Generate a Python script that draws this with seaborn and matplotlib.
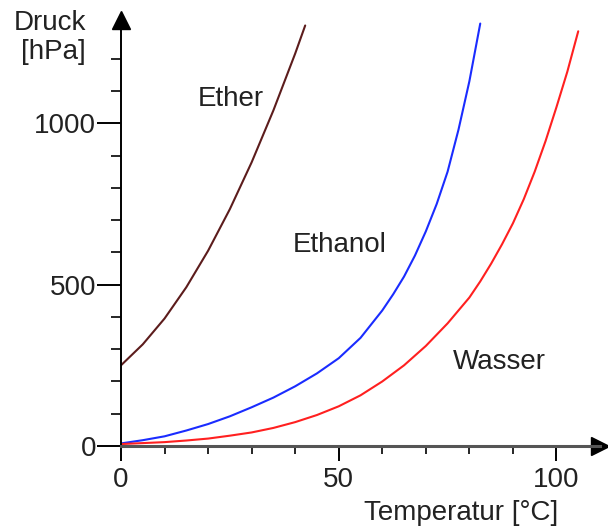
import matplotlib
matplotlib.use("Agg")
import matplotlib.pyplot as plt
import seaborn as sns
import pandas as pd

# values
ether_t = [0, 5, 10, 15, 20, 25, 30, 35, 40, 42.3]
ether_p = [250, 315, 395, 492, 605, 734, 879, 1040, 1216, 1303]

ethanol_t = [0, 5, 10, 15, 20, 25, 30, 35, 40, 45, 50, 55, 60, 62.5, 65, 67.5, 70,
             72.5, 75, 77.5, 80, 82.5]
ethanol_p = [8, 18, 30, 48, 68, 92, 120, 150, 185, 225, 272, 335, 420, 470, 525, 590, 665,
             750, 850, 980, 1130, 1309]

wasser_t = [0, 5, 10, 15, 20, 25, 30, 35, 40, 45, 50, 55, 60, 65, 70, 75, 80, 82.5, 85, 87.5,
            90, 92.5, 95, 97.5, 100, 102.5, 105]
wasser_p = [6, 9, 12, 17, 23, 32, 42, 56, 74, 96, 123, 157, 200, 250, 310, 380, 460, 510, 565,
            625, 690, 765, 850, 945, 1050, 1160, 1285]

names = ["Ether", "Ethanol", "Wasser"]
colors = ["#5c1c1c", "#1a2cff", "#ff2020"]
label_pos = [(25.3, 1074), (50.3, 622), (86.9, 260)]

x_ticks = [0, 50, 100]
y_ticks = [0, 500, 1000]

df = pd.concat([
    pd.DataFrame({"T": ether_t, "p": ether_p, "Stoff": "Ether"}),
    pd.DataFrame({"T": ethanol_t, "p": ethanol_p, "Stoff": "Ethanol"}),
    pd.DataFrame({"T": wasser_t, "p": wasser_p, "Stoff": "Wasser"}),
])

sns.set_style("white")
plt.rcParams["font.family"] = ["Liberation Sans", "DejaVu Sans"]

fig = plt.figure(figsize=(6.08, 5.30), dpi=100)
ax = fig.add_axes([121 / 608, 84 / 530, 479 / 608, 426 / 530])

sns.lineplot(data=df, x="T", y="p", hue="Stoff", palette=dict(zip(names, colors)),
             linewidth=1.5, legend=False, ax=ax, sort=False, estimator=None)

ax.set_xlim(0, 110)
ax.set_ylim(0, 1320)

for s in ["top", "right"]:
    ax.spines[s].set_visible(False)
ax.spines["left"].set_color("black")
ax.spines["left"].set_linewidth(1.4)
ax.spines["bottom"].set_color("#555555")
ax.spines["bottom"].set_linewidth(2.2)

# arrow heads
ax.plot(1, 0, ">", color="black", markersize=13, transform=ax.get_yaxis_transform(), clip_on=False)
ax.plot(0, 1, "^", color="black", markersize=13, transform=ax.get_xaxis_transform(), clip_on=False)

ax.set_xticks(x_ticks)
ax.set_xticks(range(10, 110, 10), minor=True)
ax.set_yticks(y_ticks)
ax.set_yticks([y for y in range(100, 1300, 100) if y not in y_ticks], minor=True)

ax.tick_params(axis="y", which="major", direction="out", length=17, width=1.4,
               pad=1, labelsize=20, colors="black", left=True)
ax.tick_params(axis="y", which="minor", direction="out", length=7, width=1.4, left=True)
ax.tick_params(axis="x", which="major", direction="out", length=11, width=1.4,
               pad=4, labelsize=20, colors="black", bottom=True)
ax.tick_params(axis="x", which="minor", direction="out", length=6, width=1.4, bottom=True)
ax.tick_params(labelcolor="#222222")

for name, (tx, ty) in zip(names, label_pos):
    ax.text(tx, ty, name, fontsize=20, ha="center", va="center", color="#222222")

ax.set_xlabel("")
ax.set_ylabel("")
fig.text(461 / 608, 1 - 513 / 530, "Temperatur [°C]", fontsize=20, ha="center",
         va="center", color="#222222")
fig.text(86 / 608, 1 - 10 / 530, "Druck\n[hPa]", fontsize=20, ha="right", va="top",
         multialignment="right", linespacing=1.15, color="#222222")

fig.savefig("out.png", dpi=100)
